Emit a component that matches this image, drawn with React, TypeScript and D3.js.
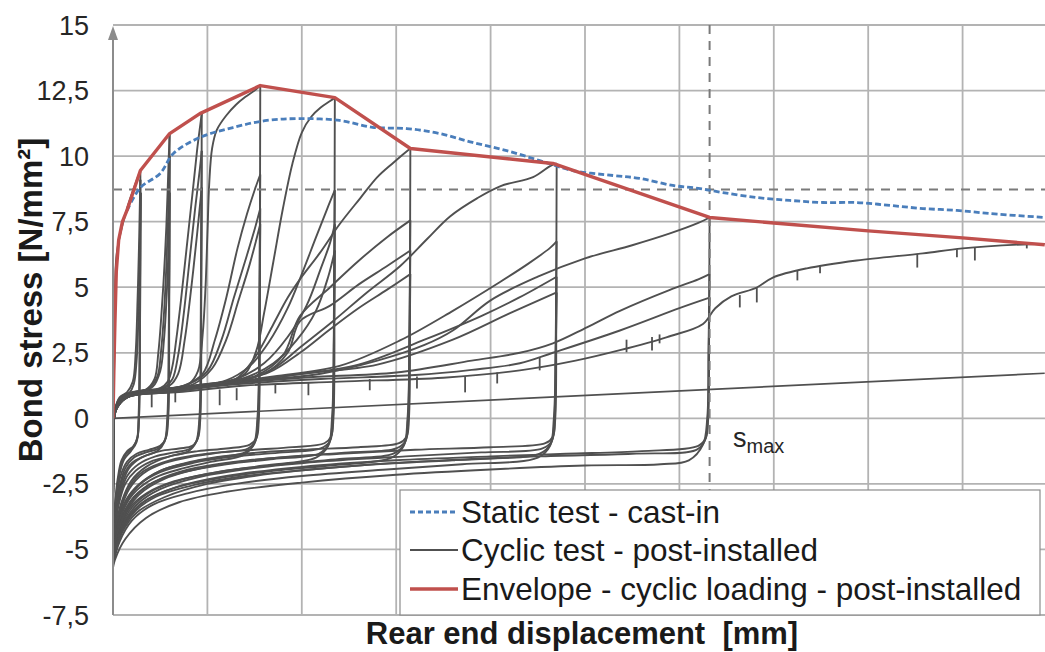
import * as d3 from "d3";

type Pt = [number, number];

// axis values
const yTicks = [-7.5, -5, -2.5, 0, 2.5, 5, 7.5, 10, 12.5, 15];
const xGridLines = [0, 1, 2, 3, 4, 5, 6, 7, 8, 9];
const sMax = 6.32;
const refStress = 8.73;

const legendLabels = [
  "Static test - cast-in",
  "Cyclic test - post-installed",
  "Envelope - cyclic loading - post-installed",
];

// static test, cast-in bar (blue dashed)
const staticCastIn: Pt[] = [
  [0.15, 7.93], [0.29, 8.8], [0.5, 9.34], [0.64, 10.1], [0.92, 10.71], [1.27, 11.09],
  [1.63, 11.36], [1.98, 11.43], [2.4, 11.36], [2.75, 11.1], [3.11, 11.05], [3.46, 10.86],
  [3.81, 10.52], [4.17, 10.21], [4.52, 9.83], [4.87, 9.45], [5.3, 9.26], [5.58, 9.15],
  [5.93, 8.88], [6.2, 8.77], [6.46, 8.61], [6.82, 8.42], [7.17, 8.31], [7.52, 8.23],
  [7.88, 8.23], [8.23, 8.12], [8.58, 8.0], [8.94, 7.93], [9.29, 7.81], [9.87, 7.66],
];

// envelope of the cyclic loading (red)
const envelope: Pt[] = [
  [0, 0], [0.01, 2.0], [0.02, 3.6], [0.035, 5.6], [0.06, 6.8], [0.1, 7.5], [0.15, 7.95],
  [0.29, 9.45], [0.6, 10.86], [0.92, 11.62], [1.56, 12.69], [2.35, 12.23], [3.15, 10.29],
  [4.66, 9.72], [6.32, 7.66], [7.0, 7.45], [8.0, 7.15], [9.0, 6.88], [9.87, 6.62],
];

// thin straight line through the cyclic plot
const driftLine: Pt[] = [[0, 0.0], [9.87, 1.72]];

// cyclic test: reloading branches (negative peak -> plateau -> peak)
const reloadBranches: Pt[][] = [
  [[0, 0], [0.02, 3.2], [0.04, 6.3], [0.14, 7.9], [0.29, 9.45]],
  [[0, -4.2], [0.005, -1.5], [0.02, 0.3], [0.07, 0.8], [0.15, 1.0], [0.21, 1.4], [0.24, 2.5], [0.26, 4.5], [0.275, 6.5], [0.285, 8.3], [0.29, 9.1]],
  [[0, -4.4], [0.005, -1.5], [0.02, 0.3], [0.08, 0.75], [0.17, 0.95], [0.22, 1.3], [0.25, 2.2], [0.27, 4.0], [0.28, 6.0], [0.29, 7.6], [0.295, 8.6]],
  [[0, -4.5], [0.005, -1.5], [0.02, 0.3], [0.08, 0.8], [0.2, 1.0], [0.35, 1.1], [0.44, 1.5], [0.48, 2.5], [0.51, 3.8], [0.54, 5.5], [0.565, 7.3], [0.58, 8.8], [0.59, 9.9], [0.6, 10.86]],
  [[0, -4.6], [0.005, -1.5], [0.02, 0.25], [0.09, 0.8], [0.22, 1.0], [0.38, 1.15], [0.47, 1.6], [0.51, 2.6], [0.54, 4.0], [0.565, 5.8], [0.585, 7.8], [0.6, 10.0]],
  [[0, -4.7], [0.005, -1.5], [0.025, 0.3], [0.1, 0.8], [0.25, 1.0], [0.42, 1.2], [0.5, 1.8], [0.54, 3.0], [0.57, 4.8], [0.59, 6.8], [0.6, 8.6]],
  [[0, -4.6], [0.005, -1.5], [0.02, 0.3], [0.1, 0.85], [0.3, 1.05], [0.5, 1.15], [0.58, 1.4], [0.63, 2.0], [0.67, 3.0], [0.72, 4.5], [0.78, 6.5], [0.84, 8.5], [0.89, 10.2], [0.925, 11.2], [0.94, 11.62]],
  [[0, -4.8], [0.005, -1.5], [0.025, 0.3], [0.1, 0.8], [0.3, 1.0], [0.55, 1.2], [0.63, 1.5], [0.69, 2.4], [0.75, 4.0], [0.81, 6.0], [0.87, 8.0], [0.92, 9.5], [0.94, 10.2]],
  [[0, -4.9], [0.005, -1.5], [0.025, 0.3], [0.12, 0.8], [0.35, 1.0], [0.6, 1.25], [0.69, 1.7], [0.76, 3.0], [0.83, 5.0], [0.89, 7.0], [0.94, 8.8]],
  [[0, -4.8], [0.005, -1.5], [0.02, 0.3], [0.1, 0.85], [0.3, 1.0], [0.6, 1.15], [0.8, 1.3], [0.9, 1.8], [0.95, 3.2], [0.98, 5.0], [1.0, 7.0], [1.02, 9.0], [1.05, 10.3], [1.1, 11.0], [1.2, 11.55], [1.3, 11.95], [1.4, 12.25], [1.5, 12.5], [1.56, 12.69]],
  [[0, -5.0], [0.005, -1.5], [0.025, 0.3], [0.12, 0.85], [0.4, 1.05], [0.75, 1.25], [0.95, 1.7], [1.08, 3.0], [1.2, 4.6], [1.32, 6.5], [1.42, 7.8], [1.5, 8.7], [1.56, 9.3]],
  [[0, -5.1], [0.005, -1.5], [0.025, 0.3], [0.12, 0.8], [0.4, 1.0], [0.8, 1.3], [1.0, 1.8], [1.15, 3.0], [1.28, 4.6], [1.4, 6.0], [1.5, 7.2], [1.56, 8.0]],
  [[0, -5.2], [0.005, -1.5], [0.03, 0.3], [0.15, 0.8], [0.45, 1.0], [0.85, 1.3], [1.05, 1.9], [1.2, 3.0], [1.33, 4.5], [1.45, 5.9], [1.56, 7.4]],
  [[0, -5.0], [0.005, -1.5], [0.02, 0.3], [0.1, 0.85], [0.4, 1.05], [0.8, 1.2], [1.2, 1.35], [1.4, 1.7], [1.52, 2.6], [1.6, 4.0], [1.7, 6.0], [1.8, 8.0], [1.9, 9.7], [2.0, 10.9], [2.1, 11.5], [2.2, 11.85], [2.3, 12.1], [2.35, 12.23]],
  [[0, -5.1], [0.005, -1.5], [0.025, 0.3], [0.12, 0.85], [0.45, 1.05], [0.85, 1.25], [1.2, 1.45], [1.45, 2.0], [1.65, 2.9], [1.85, 4.2], [2.0, 5.5], [2.15, 6.9], [2.27, 8.0], [2.35, 8.7]],
  [[0, -5.2], [0.005, -1.5], [0.025, 0.3], [0.12, 0.85], [0.5, 1.05], [0.9, 1.25], [1.3, 1.5], [1.6, 2.1], [1.85, 3.1], [2.05, 4.3], [2.2, 5.7], [2.3, 6.7], [2.35, 7.4]],
  [[0, -5.3], [0.005, -1.5], [0.03, 0.3], [0.15, 0.8], [0.5, 1.0], [0.95, 1.25], [1.4, 1.55], [1.7, 2.1], [1.95, 3.0], [2.15, 4.1], [2.28, 5.4], [2.35, 6.4]],
  [[0, -5.1], [0.005, -1.5], [0.02, 0.3], [0.12, 0.85], [0.5, 1.05], [1.0, 1.25], [1.3, 1.5], [1.5, 2.3], [1.7, 3.6], [1.85, 4.6], [1.98, 5.3], [2.19, 6.3], [2.4, 7.4], [2.62, 8.4], [2.8, 9.2], [2.97, 9.75], [3.1, 10.15], [3.15, 10.29]],
  [[0, -5.2], [0.005, -1.5], [0.025, 0.3], [0.12, 0.85], [0.5, 1.05], [1.0, 1.3], [1.5, 1.6], [1.8, 2.4], [1.98, 3.9], [2.3, 5.0], [2.6, 6.0], [2.9, 6.9], [3.15, 7.55]],
  [[0, -5.3], [0.005, -1.5], [0.025, 0.3], [0.13, 0.85], [0.55, 1.05], [1.05, 1.3], [1.6, 1.7], [1.85, 2.5], [1.98, 3.7], [2.3, 4.3], [2.6, 5.1], [2.9, 5.8], [3.15, 6.4]],
  [[0, -5.4], [0.005, -1.5], [0.03, 0.3], [0.15, 0.8], [0.6, 1.0], [1.1, 1.3], [1.65, 1.75], [1.98, 2.5], [2.3, 3.4], [2.6, 4.2], [2.9, 4.9], [3.15, 5.5]],
  [[0, -5.2], [0.005, -1.5], [0.02, 0.3], [0.12, 0.85], [0.5, 1.05], [1.0, 1.25], [1.4, 1.45], [1.7, 1.9], [1.98, 2.7], [2.33, 3.7], [2.69, 4.8], [3.04, 5.8], [3.33, 6.85], [3.57, 7.7], [3.86, 8.4], [4.1, 8.85], [4.45, 9.2], [4.63, 9.62], [4.7, 9.72]],
  [[0, -5.3], [0.005, -1.5], [0.025, 0.3], [0.13, 0.85], [0.55, 1.05], [1.1, 1.3], [1.7, 1.6], [2.4, 2.0], [3.04, 2.97], [3.6, 4.1], [4.1, 5.2], [4.4, 5.9], [4.63, 6.5], [4.7, 6.75]],
  [[0, -5.4], [0.005, -1.5], [0.025, 0.3], [0.14, 0.85], [0.6, 1.05], [1.2, 1.3], [1.9, 1.65], [2.6, 2.05], [3.3, 3.0], [3.9, 3.9], [4.3, 4.6], [4.7, 5.4]],
  [[0, -5.5], [0.005, -1.5], [0.03, 0.3], [0.15, 0.8], [0.6, 1.0], [1.2, 1.3], [2.0, 1.7], [2.8, 2.05], [3.6, 3.0], [4.2, 4.0], [4.7, 4.8]],
  [[0, -5.3], [0.005, -1.5], [0.02, 0.3], [0.13, 0.85], [0.55, 1.05], [1.1, 1.3], [1.7, 1.5], [2.2, 1.7], [2.8, 2.2], [3.3, 2.8], [3.6, 3.35], [4.0, 4.5], [4.5, 5.4], [5.0, 6.1], [5.5, 6.6], [5.9, 7.05], [6.2, 7.45], [6.32, 7.66]],
  [[0, -5.4], [0.005, -1.5], [0.025, 0.3], [0.14, 0.85], [0.6, 1.05], [1.2, 1.3], [2.0, 1.55], [3.0, 1.75], [3.8, 2.2], [4.31, 2.5], [4.66, 2.86], [5.02, 3.47], [5.37, 4.1], [5.9, 4.9], [6.2, 5.3], [6.32, 5.5]],
  [[0, -5.5], [0.005, -1.5], [0.025, 0.3], [0.15, 0.85], [0.65, 1.05], [1.3, 1.3], [2.2, 1.5], [3.2, 1.65], [3.8, 1.85], [4.31, 2.1], [4.66, 2.5], [5.37, 3.35], [6.0, 4.2], [6.32, 4.6]],
  [[0, -5.7], [0.005, -1.5], [0.03, 0.3], [0.15, 0.8], [0.7, 1.0], [1.4, 1.25], [2.4, 1.4], [3.5, 1.55], [4.31, 1.83], [4.9, 2.2], [5.37, 2.6], [5.87, 3.1], [6.25, 3.6], [6.38, 4.2], [6.55, 4.65], [6.82, 4.99], [6.99, 5.37], [7.35, 5.72], [7.88, 6.02], [8.58, 6.29], [9.0, 6.48], [9.87, 6.67]],
];

// cyclic test: unloading branches (peak -> bottom band -> negative peak)
const unloadBranches: Pt[][] = [
  [[0.29, 9.45], [0.285, 4], [0.275, 0], [0.26, -0.7], [0.22, -1.05], [0.15, -1.25], [0.09, -1.6], [0.05, -2.3], [0.025, -3.1], [0.008, -3.8], [0, -4.2]],
  [[0.29, 9.1], [0.285, 4], [0.275, 0], [0.255, -0.8], [0.2, -1.15], [0.13, -1.4], [0.08, -1.9], [0.045, -2.6], [0.02, -3.4], [0.005, -4.1], [0, -4.4]],
  [[0.295, 8.6], [0.285, 3], [0.27, 0], [0.25, -0.9], [0.19, -1.25], [0.12, -1.55], [0.07, -2.1], [0.04, -2.9], [0.015, -3.7], [0, -4.5]],
  [[0.6, 10.86], [0.595, 5], [0.585, 0], [0.56, -0.75], [0.5, -1.05], [0.38, -1.2], [0.25, -1.35], [0.15, -1.65], [0.08, -2.2], [0.04, -3.0], [0.015, -3.8], [0, -4.6]],
  [[0.6, 10.0], [0.595, 4], [0.58, 0], [0.55, -0.85], [0.48, -1.15], [0.35, -1.3], [0.22, -1.5], [0.13, -1.9], [0.07, -2.6], [0.03, -3.5], [0.01, -4.2], [0, -4.7]],
  [[0.6, 8.6], [0.59, 3], [0.575, 0], [0.545, -0.9], [0.47, -1.25], [0.33, -1.45], [0.2, -1.7], [0.11, -2.2], [0.06, -3.0], [0.025, -3.8], [0, -4.8]],
  [[0.94, 11.62], [0.935, 5], [0.925, 0], [0.9, -0.75], [0.84, -1.05], [0.7, -1.15], [0.5, -1.25], [0.3, -1.5], [0.17, -1.9], [0.09, -2.6], [0.04, -3.4], [0.01, -4.2], [0, -4.8]],
  [[0.94, 10.2], [0.93, 4], [0.92, 0], [0.89, -0.85], [0.82, -1.15], [0.65, -1.3], [0.45, -1.45], [0.27, -1.75], [0.15, -2.2], [0.08, -2.9], [0.03, -3.8], [0, -4.9]],
  [[0.94, 8.8], [0.93, 3], [0.915, 0], [0.88, -0.9], [0.8, -1.25], [0.6, -1.45], [0.4, -1.65], [0.24, -2.0], [0.13, -2.5], [0.06, -3.3], [0.02, -4.2], [0, -5.0]],
  [[1.56, 12.69], [1.555, 6], [1.545, 0], [1.52, -0.75], [1.45, -1.0], [1.2, -1.15], [0.9, -1.25], [0.6, -1.45], [0.35, -1.85], [0.19, -2.4], [0.09, -3.2], [0.03, -4.1], [0, -5.0]],
  [[1.56, 9.3], [1.55, 4], [1.54, 0], [1.51, -0.85], [1.43, -1.15], [1.15, -1.3], [0.85, -1.45], [0.55, -1.7], [0.32, -2.1], [0.17, -2.7], [0.08, -3.5], [0.02, -4.4], [0, -5.1]],
  [[1.56, 8.0], [1.55, 3], [1.535, 0], [1.5, -0.95], [1.4, -1.3], [1.1, -1.5], [0.8, -1.7], [0.5, -2.0], [0.28, -2.5], [0.14, -3.1], [0.06, -3.9], [0.015, -4.7], [0, -5.2]],
  [[1.56, 7.4], [1.55, 3], [1.53, 0], [1.49, -1.0], [1.38, -1.4], [1.05, -1.65], [0.75, -1.9], [0.45, -2.25], [0.25, -2.75], [0.12, -3.4], [0.05, -4.2], [0.01, -4.9], [0, -5.3]],
  [[2.35, 12.23], [2.345, 6], [2.335, 0], [2.31, -0.7], [2.24, -0.95], [1.9, -1.1], [1.5, -1.2], [1.0, -1.35], [0.6, -1.6], [0.33, -2.0], [0.17, -2.6], [0.08, -3.4], [0.02, -4.3], [0, -5.1]],
  [[2.35, 8.7], [2.34, 4], [2.33, 0], [2.3, -0.85], [2.2, -1.15], [1.8, -1.3], [1.3, -1.45], [0.85, -1.7], [0.5, -2.05], [0.27, -2.55], [0.13, -3.2], [0.05, -4.1], [0.01, -4.8], [0, -5.2]],
  [[2.35, 7.4], [2.34, 3], [2.325, 0], [2.29, -0.95], [2.18, -1.35], [1.7, -1.55], [1.2, -1.75], [0.75, -2.05], [0.42, -2.45], [0.22, -3.0], [0.1, -3.7], [0.03, -4.6], [0, -5.3]],
  [[2.35, 6.4], [2.34, 3], [2.32, 0], [2.28, -1.05], [2.15, -1.5], [1.6, -1.8], [1.1, -2.05], [0.65, -2.4], [0.36, -2.85], [0.18, -3.4], [0.07, -4.2], [0.01, -5.1], [0, -5.45]],
  [[3.15, 10.29], [3.145, 5], [3.135, 0], [3.11, -0.7], [3.03, -0.95], [2.6, -1.1], [2.0, -1.2], [1.4, -1.35], [0.9, -1.6], [0.5, -2.0], [0.26, -2.6], [0.12, -3.4], [0.04, -4.3], [0, -5.2]],
  [[3.15, 7.55], [3.14, 3], [3.13, 0], [3.1, -0.85], [3.0, -1.15], [2.5, -1.3], [1.9, -1.45], [1.3, -1.65], [0.8, -1.95], [0.45, -2.4], [0.23, -3.0], [0.1, -3.8], [0.03, -4.6], [0, -5.3]],
  [[3.15, 6.4], [3.14, 3], [3.125, 0], [3.09, -0.95], [2.97, -1.35], [2.4, -1.55], [1.8, -1.75], [1.2, -2.0], [0.72, -2.35], [0.4, -2.8], [0.2, -3.4], [0.08, -4.2], [0, -5.4]],
  [[3.15, 5.5], [3.14, 2.5], [3.12, 0], [3.08, -1.05], [2.95, -1.5], [2.3, -1.8], [1.7, -2.0], [1.1, -2.3], [0.65, -2.65], [0.36, -3.1], [0.17, -3.7], [0.06, -4.5], [0, -5.5]],
  [[4.7, 9.72], [4.695, 5], [4.685, 0], [4.66, -0.7], [4.58, -0.95], [4.0, -1.1], [3.2, -1.2], [2.4, -1.35], [1.6, -1.55], [1.0, -1.85], [0.55, -2.3], [0.28, -2.9], [0.12, -3.7], [0.03, -4.6], [0, -5.3]],
  [[4.7, 6.75], [4.69, 3], [4.68, 0], [4.65, -0.85], [4.55, -1.15], [3.9, -1.3], [3.1, -1.45], [2.2, -1.65], [1.5, -1.9], [0.9, -2.25], [0.5, -2.7], [0.25, -3.3], [0.1, -4.1], [0.02, -5.0], [0, -5.4]],
  [[4.7, 5.4], [4.69, 2.5], [4.675, 0], [4.64, -0.95], [4.52, -1.35], [3.8, -1.55], [3.0, -1.7], [2.1, -1.95], [1.4, -2.2], [0.85, -2.55], [0.45, -3.0], [0.22, -3.6], [0.08, -4.4], [0, -5.5]],
  [[4.7, 4.8], [4.69, 2.5], [4.67, 0], [4.63, -1.05], [4.5, -1.5], [3.7, -1.75], [2.9, -1.95], [2.0, -2.2], [1.3, -2.5], [0.8, -2.85], [0.42, -3.3], [0.2, -3.9], [0.07, -4.7], [0, -5.6]],
  [[6.32, 7.66], [6.315, 4], [6.305, 0], [6.28, -0.75], [6.2, -1.05], [5.6, -1.25], [4.8, -1.35], [4.0, -1.45], [3.0, -1.6], [2.0, -1.85], [1.2, -2.2], [0.65, -2.65], [0.32, -3.2], [0.13, -4.0], [0.03, -4.9], [0, -5.4]],
  [[6.32, 5.5], [6.31, 3], [6.3, 0], [6.27, -0.85], [6.18, -1.2], [5.5, -1.35], [4.5, -1.45], [3.6, -1.6], [2.6, -1.8], [1.7, -2.1], [1.0, -2.5], [0.55, -3.0], [0.25, -3.6], [0.09, -4.4], [0, -5.5]],
  [[6.32, 4.6], [6.31, 2.5], [6.295, 0], [6.25, -1.0], [6.1, -1.6], [5.8, -1.75], [5.0, -1.8], [4.0, -1.95], [3.0, -2.15], [2.0, -2.45], [1.2, -2.8], [0.7, -3.2], [0.35, -3.8], [0.13, -4.6], [0.02, -5.4], [0, -5.7]],
];

// short downward spikes in the cyclic record: [x, top, bottom]
const spikes: [number, number, number][] = [
  [0.41, 0.95, 0.42], [0.66, 1.0, 0.61], [1.13, 1.1, 0.5], [1.31, 1.15, 0.69], [1.72, 1.3, 0.95],
  [2.07, 1.35, 0.88], [2.72, 1.5, 1.07], [3.22, 1.6, 1.14], [3.73, 1.6, 0.99], [4.07, 1.75, 1.33],
  [4.52, 2.3, 1.83], [5.44, 3.0, 2.52], [5.71, 3.1, 2.59], [5.79, 3.2, 2.86], [6.64, 4.7, 4.23],
  [6.82, 4.99, 4.42], [7.25, 5.65, 5.26], [7.49, 5.8, 5.53], [8.52, 6.27, 5.75], [8.94, 6.45, 6.14],
  [9.13, 6.52, 6.02], [9.68, 6.63, 6.48],
];

const FONT = "'Liberation Sans', Arial, sans-serif";
const GRAY = "#505050";

export default function App() {
  const width = 1045;
  const height = 652;
  const left = 113;
  const right = 1045;
  const top = 25;
  const bottom = 615;

  const x = d3.scaleLinear().domain([0, 9.873]).range([left, right]);
  const y = d3.scaleLinear().domain([-7.5, 15]).range([bottom, top]);

  const smooth = d3
    .line<Pt>()
    .x((d) => x(d[0]))
    .y((d) => y(d[1]))
    .curve(d3.curveCatmullRom.alpha(0.5));
  const straight = d3
    .line<Pt>()
    .x((d) => x(d[0]))
    .y((d) => y(d[1]));

  const fmt = (v: number) => String(v).replace(".", ",");

  const legendRows = [512, 550, 589];

  return (
    <svg
      width={width}
      height={height}
      style={{ position: "absolute", left: 0, top: 0, background: "#fff" }}
      fontFamily={FONT}
    >
      <defs>
        <clipPath id="plot">
          <rect x={left} y={top - 5} width={right - left} height={bottom - top + 5} />
        </clipPath>
      </defs>

      {/* grid */}
      <g stroke="#b3b3b3" strokeWidth={1.8}>
        {yTicks.map((t) => (
          <line key={t} x1={left} x2={right} y1={y(t)} y2={y(t)} />
        ))}
        {xGridLines.slice(1).map((t) => (
          <line key={t} x1={x(t)} x2={x(t)} y1={top} y2={bottom} />
        ))}
      </g>

      <g clipPath="url(#plot)" fill="none">
        {/* cyclic test */}
        <path d={straight(driftLine)!} stroke={GRAY} strokeWidth={1.7} />
        {reloadBranches.map((b, i) => (
          <path key={`r${i}`} d={smooth(b)!} stroke={GRAY} strokeWidth={1.9} />
        ))}
        {unloadBranches.map((b, i) => (
          <path key={`u${i}`} d={smooth(b)!} stroke={GRAY} strokeWidth={1.9} />
        ))}
        {spikes.map(([sx, t, b], i) => (
          <line key={`s${i}`} x1={x(sx)} x2={x(sx)} y1={y(t)} y2={y(b)} stroke={GRAY} strokeWidth={1.8} />
        ))}

        {/* reference lines */}
        <line x1={left} x2={right} y1={y(refStress)} y2={y(refStress)} stroke="#7a7a7a" strokeWidth={2} strokeDasharray="9,7" />
        <line x1={x(sMax)} x2={x(sMax)} y1={top} y2={bottom} stroke="#7a7a7a" strokeWidth={2} strokeDasharray="9,7" />

        {/* static test */}
        <path d={smooth(staticCastIn)!} stroke="#4a7ebb" strokeWidth={2.8} strokeDasharray="6,3" />

        {/* envelope */}
        <path d={straight(envelope)!} stroke="#c0504d" strokeWidth={3.4} strokeLinejoin="round" />
      </g>

      {/* y axis with arrow */}
      <line x1={left} x2={left} y1={bottom} y2={top + 4} stroke="#8c8c8c" strokeWidth={2} />
      <path d={`M${left},${top + 1} L${left - 5},${top + 15} L${left + 5},${top + 15} Z`} fill="#8c8c8c" />

      {/* y tick labels */}
      <g fontSize={27} fill="#262626" textAnchor="end">
        {yTicks.map((t) => (
          <text key={t} x={89} y={y(t) + 9.5}>
            {fmt(t)}
          </text>
        ))}
      </g>

      {/* axis titles */}
      <text
        transform="translate(42,300) rotate(-90)"
        textAnchor="middle"
        fontSize={33}
        fontWeight="bold"
        fill="#1a1a1a"
      >
        Bond stress [N/mm²]
      </text>
      <text x={582} y={644} textAnchor="middle" fontSize={31} fontWeight="bold" fill="#1a1a1a" xmlSpace="preserve">
        Rear end displacement  [mm]
      </text>

      {/* s_max label */}
      <text x={733} y={447} fontSize={27} fill="#262626">
        s<tspan fontSize={20} dy={6}>max</tspan>
      </text>

      {/* legend */}
      <rect x={400} y={490} width={640} height={125} fill="#fff" stroke="#8c8c8c" strokeWidth={1.2} />
      <line x1={410} x2={458} y1={legendRows[0]} y2={legendRows[0]} stroke="#4a7ebb" strokeWidth={2.8} strokeDasharray="5,3" />
      <line x1={410} x2={458} y1={legendRows[1]} y2={legendRows[1]} stroke={GRAY} strokeWidth={2} />
      <line x1={410} x2={458} y1={legendRows[2]} y2={legendRows[2]} stroke="#c0504d" strokeWidth={3.6} />
      <g fontSize={31.5} fill="#1a1a1a">
        {legendLabels.map((l, i) => (
          <text key={l} x={461} y={legendRows[i] + 11}>
            {l}
          </text>
        ))}
      </g>
    </svg>
  );
}
